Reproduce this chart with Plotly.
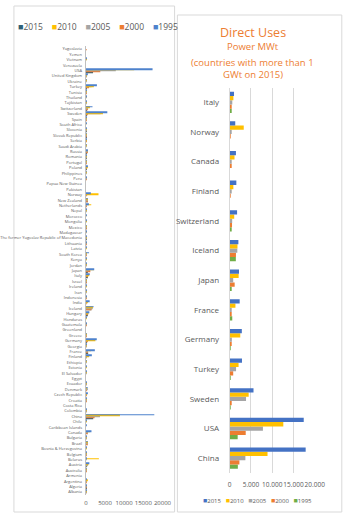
import plotly.graph_objects as go

W, H = 349, 524


def px(x):
    return x / W


def py(y):
    return 1 - y / H


# ---------------- Left chart (all countries) ----------------
left_countries = [
    "Albania", "Algeria", "Argentina", "Armenia", "Australia", "Austria", "Belarus", "Belgium",
    "Bosnia & Herzegovina", "Brazil", "Bulgaria", "Canada", "Caribbean Islands", "Chile", "China",
    "Colombia", "Costa Rica", "Croatia", "Czech Republic", "Denmark", "Ecuador", "Egypt",
    "El Salvador", "Estonia", "Ethiopia", "Finland", "France", "Georgia", "Germany", "Greece",
    "Greenland", "Guatemala", "Honduras", "Hungary", "Iceland", "India", "Indonesia", "Iran",
    "Ireland", "Israel", "Italy", "Japan", "Jordan", "Kenya", "South Korea", "Latvia", "Lithuania",
    "The former Yugoslav Republic of Macedonia", "Madagascar", "Mexico", "Mongolia", "Morocco",
    "Nepal", "Netherlands", "New Zealand", "Norway", "Pakistan", "Papua New Guinea", "Peru",
    "Philippines", "Poland", "Portugal", "Romania", "Russia", "Saudi Arabia", "Serbia",
    "Slovak Republic", "Slovenia", "South Africa", "Spain", "Sweden", "Switzerland", "Tajikistan",
    "Thailand", "Tunisia", "Turkey", "Ukraine", "United Kingdom", "USA", "Venezuela", "Vietnam",
    "Yemen", "Yugoslavia",
]

# values as drawn, per legend entry of the left chart
left_1995 = [16, 55, 164, 1, 16, 903, 5, 206, 24, 364, 94, 1467, 3, 20, 17870,
             19, 1, 80, 305, 353, 5, 1, 3, 63, 2, 1560, 2346, 73, 2849, 222,
             0, 2, 2, 906, 2040, 987, 2, 82, 153, 82, 1014, 2186, 153, 22, 836, 2, 94,
             49, 3, 156, 20, 5, 3, 790, 487, 1300, 0, 0, 3, 3, 489, 35, 245, 308, 44,
             115, 150, 153, 2, 64, 5600, 1733, 3, 128, 44, 2886, 11, 284, 17415, 1, 31, 1, 0]
left_2010 = [12, 55, 307, 1, 33, 663, 3400, 118, 22, 360, 98, 1126, 0, 10, 8898,
             14, 1, 67, 152, 200, 5, 1, 2, 63, 2, 858, 1345, 25, 2485, 135,
             0, 2, 2, 655, 1826, 265, 2, 42, 153, 82, 867, 2100, 153, 16, 229, 2, 48,
             47, 3, 156, 7, 5, 3, 1410, 393, 3300, 0, 0, 2, 3, 281, 28, 153, 308, 44,
             100, 132, 104, 6, 141, 4460, 1061, 3, 3, 44, 2084, 11, 187, 12611, 1, 31, 1, 0]
left_2005 = [10, 152, 150, 1, 110, 352, 2, 63, 22, 360, 110, 461, 0, 9, 3687,
             14, 1, 114, 205, 330, 5, 1, 2, 0, 2, 260, 308, 250, 505, 74,
             0, 2, 1, 694, 1791, 203, 2, 30, 20, 82, 607, 822, 153, 10, 17, 0, 21,
             62, 3, 165, 7, 0, 2, 254, 308, 450, 0, 0, 2, 3, 171, 30, 145, 308, 44,
             89, 188, 49, 0, 22, 3840, 582, 3, 3, 26, 1495, 11, 10, 7817, 1, 31, 1, 0]
left_2000 = [9, 100, 25, 0, 34, 255, 0, 4, 0, 364, 107, 378, 1, 0, 2282,
             13, 0, 114, 12, 7, 5, 1, 0, 0, 0, 80, 326, 250, 397, 57,
             0, 4, 0, 473, 1469, 80, 2, 0, 0, 63, 326, 1167, 153, 1, 36, 0, 21,
             81, 0, 164, 0, 0, 1, 11, 308, 6, 0, 0, 2, 1, 68, 5, 152, 308, 0,
             80, 132, 42, 0, 70, 377, 547, 0, 1, 24, 820, 0, 3, 3766, 0, 0, 0, 80]
left_2015 = [0, 100, 0, 0, 0, 21, 0, 0, 0, 0, 0, 1, 0, 0, 1915,
             0, 0, 0, 0, 0, 0, 0, 0, 0, 0, 0, 599, 0, 32, 0,
             0, 0, 0, 340, 1443, 0, 0, 0, 0, 44, 308, 319, 0, 0, 0, 0, 0,
             70, 0, 28, 0, 0, 0, 0, 264, 0, 0, 0, 0, 0, 63, 0, 137, 210, 0,
             0, 100, 37, 0, 0, 47, 243, 0, 0, 0, 140, 0, 0, 1874, 0, 0, 0, 0]
left_ticks = [0, 5000, 10000, 15000, 20000]

# ---------------- Right chart (countries > 1 GWt in 2015) ----------------
right_countries = ["China", "USA", "Sweden", "Turkey", "Germany", "France", "Japan",
                   "Iceland", "Switzerland", "Finland", "Canada", "Norway", "Italy"]
right_2015 = [17870, 17415, 5600, 2886, 2849, 2346, 2186, 2040, 1733, 1560, 1467, 1300, 1014]
right_2010 = [8898, 12611, 4460, 2084, 2485, 1345, 2100, 1826, 1061, 858, 1126, 3300, 867]
right_2005 = [3687, 7817, 3840, 1495, 505, 308, 822, 1791, 582, 260, 461, 450, 607]
right_2000 = [2282, 3766, 377, 820, 397, 326, 1167, 1469, 547, 80, 378, 6, 326]
right_1995 = [1915, 1874, 47, 140, 32, 599, 319, 1443, 243, 0, 1, 0, 308]
right_ticks = [0, 5000, 10000, 15000, 20000]

LC = {"2015": "#2E5F74", "2010": "#FFC000", "2005": "#A5A5A5", "2000": "#ED7D31", "1995": "#4E82CC"}
RC = {"2015": "#4472C4", "2010": "#FFC000", "2005": "#A5A5A5", "2000": "#ED7D31", "1995": "#70AD47"}

fig = go.Figure()

# left: bottom-of-group first
for name, vals in [("2015", left_2015), ("2000", left_2000), ("2005", left_2005),
                   ("2010", left_2010), ("1995", left_1995)]:
    fig.add_trace(go.Bar(y=left_countries, x=vals, orientation="h", name=name,
                         marker=dict(color=LC[name], line=dict(width=0)),
                         xaxis="x", yaxis="y", showlegend=False))

for name, vals in [("1995", right_1995), ("2000", right_2000), ("2005", right_2005),
                   ("2010", right_2010), ("2015", right_2015)]:
    fig.add_trace(go.Bar(y=right_countries, x=vals, orientation="h", name=name,
                         marker=dict(color=RC[name], line=dict(width=0)),
                         xaxis="x2", yaxis="y2", showlegend=False))

FONT = "Open Sans"
GRAY = "#595959"

fig.update_layout(
    width=W, height=H,
    margin=dict(l=0, r=0, t=0, b=0),
    paper_bgcolor="white", plot_bgcolor="white",
    barmode="group", bargap=0.28, bargroupgap=0,
    separators=",.",
    font=dict(family=FONT, color=GRAY),
    xaxis=dict(domain=[px(78), px(160)], range=[0, 20000], anchor="y",
               tickmode="array", tickvals=left_ticks, tickformat="d", tickangle=0,
               showgrid=False, zeroline=False, showline=False, ticks="",
               tickfont=dict(size=6, color=GRAY), ticklabelstandoff=3),
    yaxis=dict(domain=[py(494.7), py(46.3)], anchor="x", type="category",
               tickmode="linear", tick0=0, dtick=1,
               showgrid=False, zeroline=False, showline=True, linecolor="#BFBFBF", linewidth=1,
               ticks="", tickfont=dict(size=4, color=GRAY), ticklabelstandoff=2),
    xaxis2=dict(domain=[px(232), px(323)], range=[0, 20000], anchor="y2",
                tickmode="array", tickvals=right_ticks, tickformat=",d", tickangle=0,
                showgrid=True, gridcolor="#D9D9D9", gridwidth=1, zeroline=False,
                showline=False, ticks="", tickfont=dict(size=6.5, color=GRAY),
                ticklabelstandoff=6),
    yaxis2=dict(domain=[py(473), py(87.5)], anchor="x2", type="category",
                tickmode="linear", tick0=0, dtick=1,
                showgrid=False, zeroline=False, showline=True, linecolor="#D9D9D9", linewidth=1,
                ticks="", tickfont=dict(size=8, color=GRAY), ticklabelstandoff=8),
)

# panel borders
fig.add_shape(type="rect", xref="paper", yref="paper", x0=px(1), x1=px(173), y0=py(512), y1=py(6),
              line=dict(color="#D9D9D9", width=1), fillcolor="rgba(0,0,0,0)", layer="below")
fig.add_shape(type="rect", xref="paper", yref="paper", x0=px(176), x1=px(352), y0=py(512), y1=py(15),
              line=dict(color="#D9D9D9", width=1), fillcolor="rgba(0,0,0,0)", layer="below")


def legend_text(colors, order, gap, sw):
    sep = "&nbsp;" * gap
    return sep.join(
        f"<span style='color:{colors[k]};font-size:{sw}px'>■</span>{k}" for k in order
    )


order = ["2015", "2010", "2005", "2000", "1995"]
fig.add_annotation(x=px(91.5), y=py(26), xref="paper", yref="paper", showarrow=False,
                   text=legend_text(LC, order, 4, 9), font=dict(size=8.5, color=GRAY, family=FONT),
                   xanchor="center", yanchor="middle")
fig.add_annotation(x=px(261.5), y=py(500), xref="paper", yref="paper", showarrow=False,
                   text=legend_text(RC, order, 3, 7), font=dict(size=6, color=GRAY, family=FONT),
                   xanchor="center", yanchor="middle")

ORANGE = "#ED7D31"
fig.add_annotation(x=px(256.5), y=py(33), xref="paper", yref="paper", showarrow=False,
                   text="Direct Uses", font=dict(size=12.5, color=ORANGE, family=FONT),
                   xanchor="center", yanchor="middle")
for txt, yy in [("Power MWt", 47), ("(countries with more than 1", 62), ("GWt on 2015)", 74.5)]:
    fig.add_annotation(x=px(256.5), y=py(yy), xref="paper", yref="paper", showarrow=False,
                       text=txt, font=dict(size=9.5, color=ORANGE, family=FONT),
                       xanchor="center", yanchor="middle")

fig.write_html("out.html")
